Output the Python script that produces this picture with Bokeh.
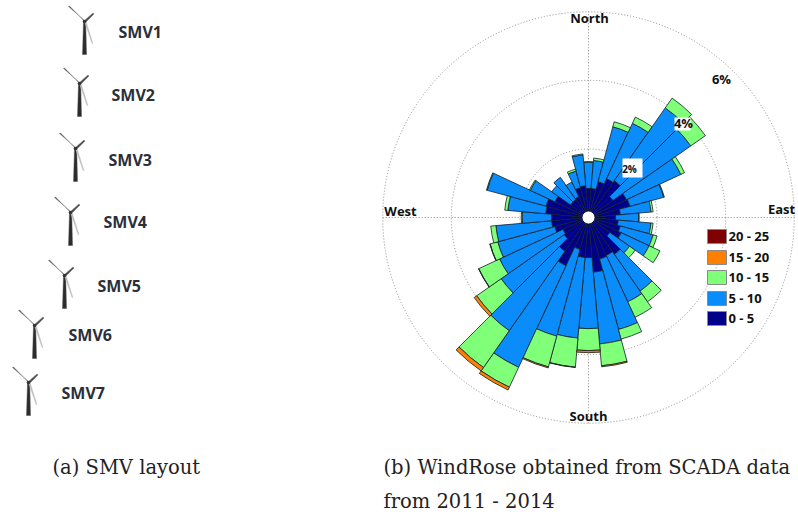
from bokeh.plotting import figure
from bokeh.layouts import row
from bokeh.models import Range1d
from bokeh.core.properties import value
from bokeh.embed import file_html
from bokeh.resources import INLINE

# ---------- data (percent of time, per direction bin, clockwise from North) ----------
directions = list(range(0, 360, 10))
bin_0_5 = [.85, .85, 1.08, 1.25, 1.31, .87, 1.22, 1.25, .93, .79, .87, .96,
           1.05, .76, 1.31, 1.22, 1.25, 1.60, 1.17, 1.17, .96, 1.55, 1.20, .87,
           .82, 1.02, 1.08, 1.08, 1.25, 1.28, 1.08, .64, .64, .67, .90, .93]
bin_5_10 = [.76, .82, 1.66, 1.78, 2.59, 2.77, 1.75, 1.02, .90, .67, .96, .99,
            .90, .70, 1.31, 1.49, 2.13, 2.10, 2.07, 2.36, 2.62, 3.27, 2.83, 2.24,
            2.04, 1.72, 1.63, .85, 1.11, 1.78, .79, .67, .79, .47, .50, .90]
bin_10_15 = [.02, .07, .15, .20, .35, .52, .12, .02, .06, .02, .06, .12,
             .35, .20, .38, .50, .29, .64, .64, .85, .93, .64, 1.31, .87,
             .67, .23, .15, .03, .09, .02, .03, 0, 0, 0, .06, .03]
bin_15_20 = [0, 0, 0, 0, 0, 0, 0, 0, 0, 0, 0, 0,
             0, 0, 0, 0, 0, .03, .06, .01, .03, .09, .12, .09,
             .01, .01, 0, 0, 0, 0, 0, 0, 0, 0, 0, 0]
bin_20_25 = [0] * 36
legend_labels = ["20 - 25", "15 - 20", "10 - 15", "5 - 10", "0 - 5"]
ring_percent = [2, 4, 6]
turbines = ["SMV1", "SMV2", "SMV3", "SMV4", "SMV5", "SMV6", "SMV7"]

# ---------- layout / style ----------
COLORS = {"0-5": "#00008a", "5-10": "#0a8cfa", "10-15": "#80ff78",
          "15-20": "#ff8000", "20-25": "#7f0000"}
legend_colors = [COLORS["20-25"], COLORS["15-20"], COLORS["10-15"], COLORS["5-10"], COLORS["0-5"]]
SANS = value("Open Sans")
SERIF = value("DejaVu Serif")

W_L, W_R, H = 378, 420, 514
RIGHT_X0 = W_L
CX, CY, S = 588, 217, 34.3   # rose centre on the page, pixels per percent


def X(px):
    return (px - CX) / S


def Y(py):
    return (CY - py) / S


# ---------- left panel: SMV layout ----------
left = figure(width=W_L, height=H, x_range=Range1d(0, W_L), y_range=Range1d(H, 0),
              output_backend="svg", toolbar_location=None, min_border=0, outline_line_color=None)
left.axis.visible = False
left.grid.visible = False

hubs = [(84, 21), (79, 83), (75, 148), (70, 212), (64, 275), (34, 325), (28, 382)]
label_pos = [(118, 31), (111, 94), (108, 159), (103, 221), (97, 285), (68, 334), (61, 392)]

for hx, hy in hubs:
    left.patch([hx - 1, hx + 1.2, hx + 2, hx - 2], [hy, hy, hy + 33, hy + 33],
               fill_color="#2b2b2b", line_color="#555555", line_width=0.5)
    left.patch([hx, hx - 16, hx - 15, hx + 1.2], [hy - 1, hy - 15, hy - 15.5, hy + 1],
               fill_color="#4a4a4a", line_color="#777777", line_width=0.5)
    left.patch([hx, hx + 8.5, hx + 9.5, hx + 1], [hy - 1, hy - 8.5, hy - 7.5, hy + 1],
               fill_color="#4a4a4a", line_color="#777777", line_width=0.5)
    left.patch([hx, hx + 1.6, hx + 8.5, hx + 7.5], [hy, hy, hy + 22, hy + 22],
               fill_color="#b5b5b5", line_color="#cccccc", line_width=0.5)
    left.circle(x=[hx], y=[hy], radius=1.8, fill_color="#333333", line_color=None)

left.text(x=[p[0] for p in label_pos], y=[p[1] for p in label_pos], text=turbines,
          text_font=SANS, text_font_style="bold", text_font_size="16px",
          text_color="#2b2f3a", text_align="left", text_baseline="middle")
left.text(x=[52], y=[467], text=["(a) SMV layout"], text_font=SERIF, text_font_size="19.5px",
          text_color="#222222", text_align="left", text_baseline="middle")

# ---------- right panel: wind rose ----------
rose = figure(width=W_R, height=H,
              x_range=Range1d(X(RIGHT_X0), X(RIGHT_X0 + W_R)), y_range=Range1d(Y(H), Y(0)),
              output_backend="svg", toolbar_location=None, min_border=0, outline_line_color=None)
rose.axis.visible = False
rose.grid.visible = False

# dotted grid
rose.circle(x=[0] * 3, y=[0] * 3, radius=ring_percent, fill_color=None,
            line_color="#8a8a8a", line_width=1, line_dash="1 2")
outer = ring_percent[-1]
rose.segment(x0=[-outer, 0], y0=[0, -outer], x1=[outer, 0], y1=[0, outer],
             line_color="#8a8a8a", line_width=1, line_dash="1 2")

# stacked wedges
start = [90 - d - 5 for d in directions]
end = [90 - d + 5 for d in directions]
bins = [("0-5", bin_0_5), ("5-10", bin_5_10), ("10-15", bin_10_15),
        ("15-20", bin_15_20), ("20-25", bin_20_25)]
base = [0.0] * 36
for name, vals in bins:
    idx = [i for i, v in enumerate(vals) if v > 0]
    top = [b + v for b, v in zip(base, vals)]
    if idx:
        rose.annular_wedge(x=0, y=0,
                           inner_radius=[base[i] for i in idx],
                           outer_radius=[top[i] for i in idx],
                           start_angle=[start[i] for i in idx],
                           end_angle=[end[i] for i in idx],
                           start_angle_units="deg", end_angle_units="deg",
                           fill_color=COLORS[name], line_color="#10202a", line_width=0.8)
    base = top

# white hub
rose.circle(x=[0], y=[0], radius=6.5 / S, fill_color="white", line_color="#00003a", line_width=0.8)

# percent tags
rose.quad(left=[X(622), X(674)], right=[X(642), X(690)], top=[Y(158), Y(117)], bottom=[Y(177), Y(130)],
          fill_color="white", line_color=None)
rose.text(x=[X(629), X(683), X(721)], y=[Y(168), Y(122), Y(78)], text=["2%", "4%", "6%"],
          text_font=SANS, text_font_style="bold", text_font_size=["10px", "13px", "13px"],
          text_color="#111111", text_align="center", text_baseline="middle")

# compass labels
rose.text(x=[X(589), X(588), X(400), X(781)], y=[Y(17), Y(415), Y(210), Y(208)],
          text=["North", "South", "West", "East"], text_font=SANS, text_font_style="bold",
          text_font_size="13px", text_color="#111111", text_align="center", text_baseline="middle")

# legend
ly = [236, 257, 277, 298, 318]
rose.quad(left=[X(707)] * 5, right=[X(726)] * 5, top=[Y(y - 7) for y in ly], bottom=[Y(y + 7) for y in ly],
          fill_color=legend_colors, line_color="#8a8a8a", line_width=1)
rose.text(x=[X(728)] * 5, y=[Y(y - 1) for y in ly], text=legend_labels, text_font=SANS,
          text_font_style="bold", text_font_size="13px", text_color="#111111",
          text_align="left", text_baseline="middle")

# caption
rose.text(x=[X(383), X(383)], y=[Y(467), Y(501)],
          text=["(b) WindRose obtained from SCADA data", "from 2011 - 2014"],
          text_font=SERIF, text_font_size="19.5px", text_color="#222222",
          text_align="left", text_baseline="middle")

layout = row(left, rose)
open("out.html", "w").write(file_html(layout, INLINE))
